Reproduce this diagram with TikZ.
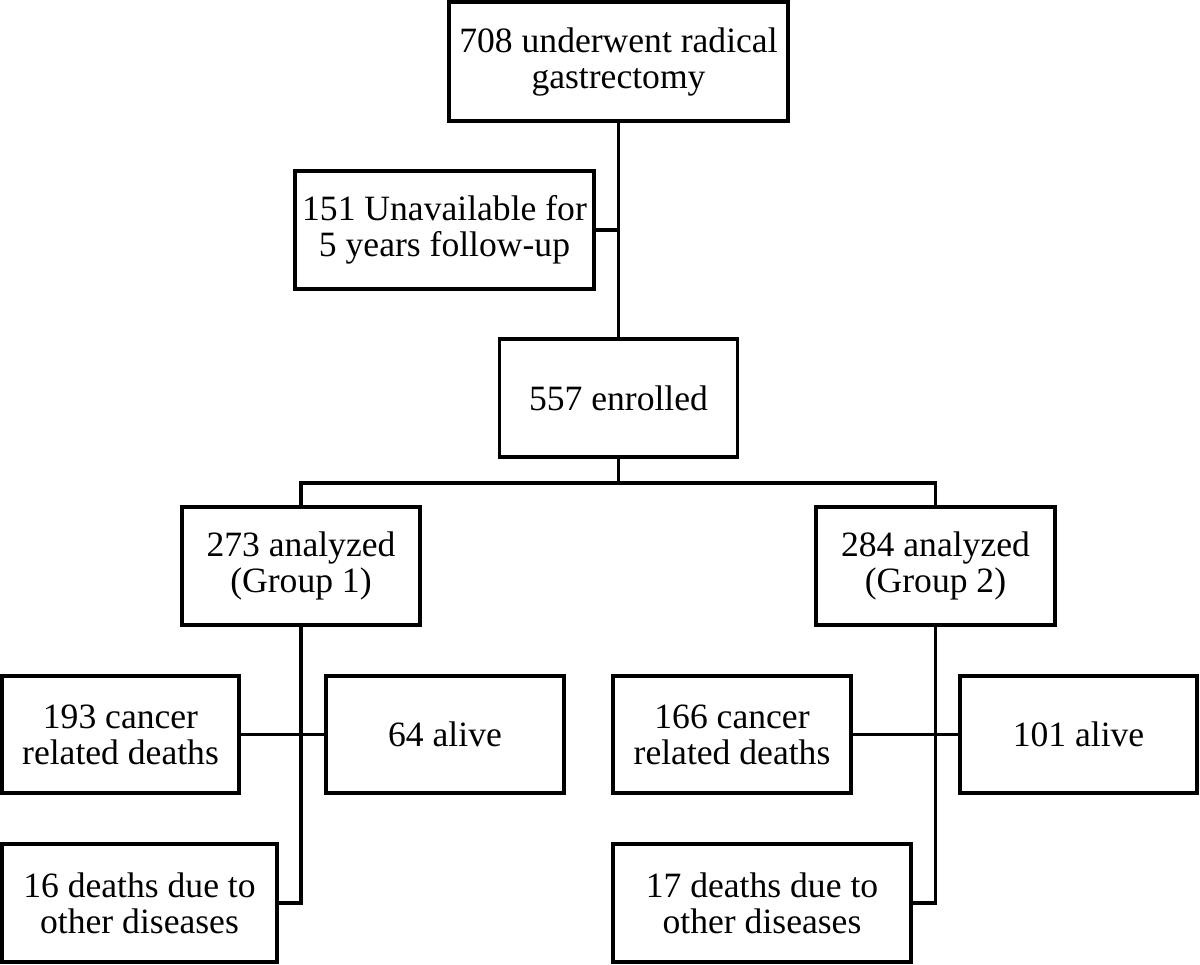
\documentclass[tikz,border=0pt]{standalone}
\usepackage{fontspec}
\setmainfont{Liberation Serif}
\begin{document}
\begin{tikzpicture}[x=1pt,y=-1pt,
  box/.style={draw=black, line width=3.2pt, fill=white, inner sep=0pt, outer sep=0pt,
    align=center, font=\fontsize{35.6}{36}\selectfont},
  conn/.style={draw=black, line width=3.2pt}]
\useasboundingbox (0,0) rectangle (1200,965);
\fill[white] (0,0) rectangle (1200,965);
\node[box, minimum width=339pt, minimum height=119pt] (top) at (618.5,61.5) {708 underwent radical\\gastrectomy};
\node[box, minimum width=299pt, minimum height=118pt] (una) at (444.5,230) {151 Unavailable for\\5 years follow-up};
\node[box, minimum width=238pt, minimum height=118pt] (enr) at (618.5,398) {557 enrolled};
\node[box, minimum width=238pt, minimum height=118pt] (g1) at (301,566) {273 analyzed\\(Group 1)};
\node[box, minimum width=239pt, minimum height=118pt] (g2) at (935.5,566) {284 analyzed\\(Group 2)};
\node[box, minimum width=237pt, minimum height=117pt] (c193) at (120.5,734.5) {193 cancer\\related deaths};
\node[box, minimum width=238pt, minimum height=117pt] (a64) at (445,734.5) {64 alive};
\node[box, minimum width=238pt, minimum height=117pt] (c166) at (732,734.5) {166 cancer\\related deaths};
\node[box, minimum width=237pt, minimum height=117pt] (a101) at (1078.5,734.5) {101 alive};
\node[box, minimum width=275pt, minimum height=118pt] (d16) at (139.5,903) {16 deaths due to\\other diseases};
\node[box, minimum width=298pt, minimum height=118pt] (d17) at (762,903) {17 deaths due to\\other diseases};
\coordinate (bus) at (618.5,483);
\draw[conn] (top.south) -- (enr.north);
\draw[conn] (una.east) -- (una.east -| top.south);
\draw[conn] (enr.south) -- (bus);
\draw[conn] (g1.north) |- (bus) -| (g2.north);
\draw[conn] (g1.south) |- (d16.east);
\draw[conn] (c193.east) -- (a64.west);
\draw[conn] (g2.south) |- (d17.east);
\draw[conn] (c166.east) -- (a101.west);
\end{tikzpicture}
\end{document}
